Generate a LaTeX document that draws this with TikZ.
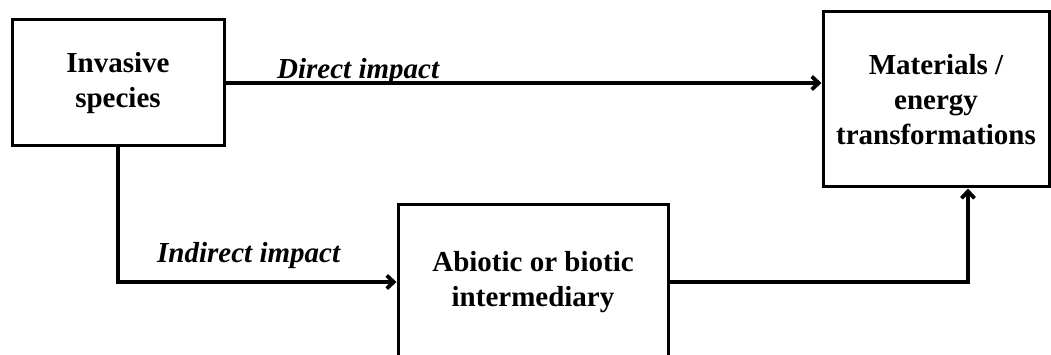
\documentclass[tikz,border=0pt]{standalone}
\usepackage{fontspec}
\setmainfont{Liberation Serif}
\usetikzlibrary{arrows.meta}
\begin{document}
\begin{tikzpicture}[x=1pt,y=-1pt,
  box/.style={draw, line width=3pt, inner sep=0pt, align=center,
    font=\fontsize{29}{35}\selectfont\bfseries},
  lab/.style={inner sep=0pt, font=\fontsize{29}{35}\selectfont\bfseries\itshape},
  conn/.style={line width=3.8pt, -{Straight Barb[length=7pt,width=13pt]}}]
\useasboundingbox (0,0) rectangle (1051,355);
\clip (0,0) rectangle (1051,355);
\node[box, minimum width=212pt, minimum height=126pt] (inv) at (118,83) {Invasive\\species};
\node[box, minimum width=226pt, minimum height=175pt] (mat) at (936,99.5) {Materials /\\energy\\transformations};
\node[box, minimum width=270pt, minimum height=154pt] (abi) at (533,282) {Abiotic or biotic\\intermediary};
\draw[conn] (inv.east) -- (inv.east -| mat.west);
\draw[conn] (inv.south) |- (abi.west);
\draw[conn] (abi.east) -| ([xshift=32pt]mat.south);
\node[lab, anchor=base west] (dl) at (277,79) {Direct impact};
\node[lab, anchor=base west] (il) at (157,262) {Indirect impact};
\end{tikzpicture}
\end{document}
